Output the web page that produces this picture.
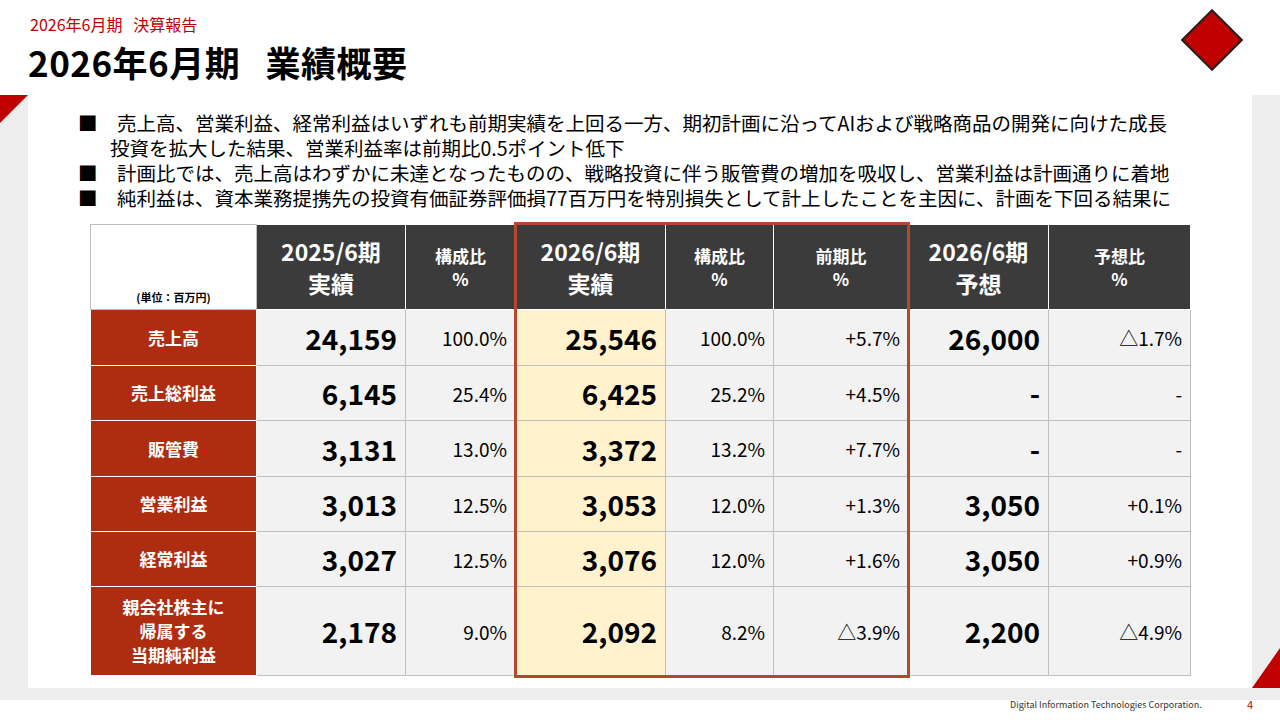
<!DOCTYPE html>
<html><head><meta charset="utf-8">
<script src="https://cdn.jsdelivr.net/npm/chart.js@4"></script>
<style>
body{margin:0;width:1280px;height:720px;position:relative;background:#fff;font-family:"Noto Sans CJK JP","Noto Sans",sans-serif;overflow:hidden}
.sub{position:absolute;left:30px;top:14px;font-size:16px;line-height:20px;color:#c00000}
.title{position:absolute;left:28px;top:40px;font-size:35px;line-height:44px;font-weight:bold;color:#000;letter-spacing:0.5px}
.bg{position:absolute;left:0;top:95px;width:1280px;height:605px;background:#ededed}
.panel{position:absolute;left:28px;top:95px;width:1224px;height:593px;background:#fff}
.tri1{position:absolute;left:0;top:95px;width:0;height:0;border-top:28px solid #c00000;border-right:28px solid transparent}
.tri2{position:absolute;left:1252px;top:648px;width:0;height:0;border-bottom:40px solid #c00000;border-left:28px solid transparent}
.bul{position:absolute;left:78px;top:110px;width:1180px;font-size:19.5px;line-height:25px;color:#000}
.bul div{padding-left:32px;text-indent:-32px}
table{position:absolute;left:90px;top:224px;border-collapse:collapse;table-layout:fixed}
td{border:1px solid #bfbfbf;padding:0 8px;font-size:19px;text-align:right;background:#f2f2f2}
td.h{background:#3b3b3b;color:#fff;text-align:center;font-weight:bold;font-size:23px;line-height:32px;border-color:#fff}
td.hs{font-size:17px;line-height:23px}
td.l{background:#ae2d10;color:#fff;text-align:center;font-weight:bold;font-size:17px;border-color:#fff;line-height:24px}
td.big{font-size:28px;font-weight:bold}
td.y{background:#fff2cc}
.frame{position:absolute;left:514px;top:222px;width:390px;height:450px;border:3px solid #b5472c}
.foot{position:absolute;left:1010px;top:698px;font-size:9px;color:#333}
.pg{position:absolute;left:1247px;top:696px;font-size:11px;color:#c00000}
.logo{position:absolute;left:1190px;top:18px;width:40px;height:40px;background:#c00000;transform:rotate(45deg);border:2px solid #222}
#c{position:absolute;left:0;top:0;width:1px;height:1px}
</style></head><body>
<div class="sub">2026年6月期&nbsp;&nbsp;&nbsp;決算報告</div>
<div class="title">2026年6月期&nbsp;&nbsp;&nbsp;業績概要</div>
<div class="logo"></div>
<div class="bg"></div><div class="panel"></div><div class="tri1"></div><div class="tri2"></div>
<div class="bul" id="bul"></div>
<table id="t"></table>
<div class="frame"></div>
<div class="foot">Digital Information Technologies Corporation.</div>
<div class="pg">4</div>
<canvas id="c"></canvas>
<script>
const bullets = [
  '■　売上高、営業利益、経常利益はいずれも前期実績を上回る一方、期初計画に沿ってAIおよび戦略商品の開発に向けた成長<br>投資を拡大した結果、営業利益率は前期比0.5ポイント低下',
  '■　計画比では、売上高はわずかに未達となったものの、戦略投資に伴う販管費の増加を吸収し、営業利益は計画通りに着地',
  '■　純利益は、資本業務提携先の投資有価証券評価損77百万円を特別損失として計上したことを主因に、計画を下回る結果に'
];
const headers = ['2025/6期<br>実績','構成比<br>%','2026/6期<br>実績','構成比<br>%','前期比<br>%','2026/6期<br>予想','予想比<br>%'];
const categories = ['売上高','売上総利益','販管費','営業利益','経常利益','親会社株主に<br>帰属する<br>当期純利益'];
const actual2025 = ['24,159','6,145','3,131','3,013','3,027','2,178'];
const ratio2025 = ['100.0%','25.4%','13.0%','12.5%','12.5%','9.0%'];
const actual2026 = ['25,546','6,425','3,372','3,053','3,076','2,092'];
const ratio2026 = ['100.0%','25.2%','13.2%','12.0%','12.0%','8.2%'];
const yoy = ['+5.7%','+4.5%','+7.7%','+1.3%','+1.6%','△3.9%'];
const forecast = ['26,000','-','-','3,050','3,050','2,200'];
const vsForecast = ['△1.7%','-','-','+0.1%','+0.9%','△4.9%'];

document.getElementById('bul').innerHTML = bullets.map(b => `<div>${b}</div>`).join('');
const widths = [166,149,110,150,108,135,140,142];
const heights = [56,55,56,55,55,89];
let html = '<colgroup>' + widths.map(w => `<col style="width:${w}px">`).join('') + '</colgroup>';
html += '<tr style="height:85px"><td style="background:#fff;text-align:center;vertical-align:bottom;font-size:11px;font-weight:bold;padding-bottom:4px">(単位：百万円)</td>';
headers.forEach((h, i) => {
  const small = h.startsWith('構成比') || h.startsWith('前期比') || h.startsWith('予想比');
  html += `<td class="h${small ? ' hs' : ''}">${h}</td>`;
});
html += '</tr>';
categories.forEach((c, i) => {
  html += `<tr style="height:${heights[i]}px"><td class="l">${c}</td>` +
    `<td class="big">${actual2025[i]}</td><td>${ratio2025[i]}</td>` +
    `<td class="big y">${actual2026[i]}</td><td>${ratio2026[i]}</td><td>${yoy[i]}</td>` +
    `<td class="big">${forecast[i]}</td><td>${vsForecast[i]}</td></tr>`;
});
document.getElementById('t').innerHTML = html;
</script>
</body></html>
